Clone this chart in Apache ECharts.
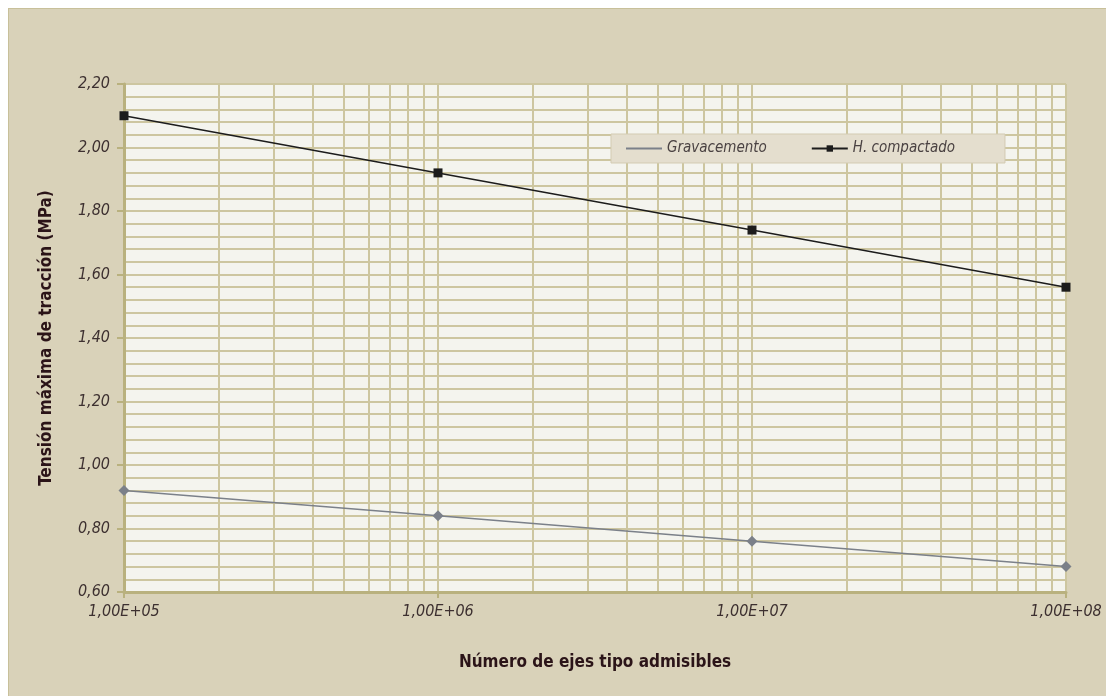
<!DOCTYPE html>
<html><head><meta charset="utf-8">
<script src="https://cdn.jsdelivr.net/npm/echarts@6/dist/echarts.min.js"></script>
<style>
html,body{margin:0;padding:0;background:#fff;}
#frame{position:absolute;left:8px;top:8px;width:1106px;height:696px;background:#d9d2b9;border:1px solid #c8c09a;box-sizing:border-box;}
#chart{position:absolute;left:0;top:0;width:1106px;height:696px;}
</style></head>
<body>
<div id="frame"></div>
<div id="chart"></div>
<script>
const ejes = [1e5, 1e6, 1e7, 1e8];
const gravacemento = [0.92, 0.84, 0.76, 0.68];
const hCompactado = [2.10, 1.92, 1.74, 1.56];
const seriesNames = ['Gravacemento', 'H. compactado'];
const yTitle = 'Tensión máxima de tracción (MPa)';
const xTitle = 'Número de ejes tipo admisibles';

const FONT = '"Liberation Sans Narrow", "DejaVu Sans Condensed", "Roboto", sans-serif';
const gridColor = '#cdc6a0';
const axisColor = '#b9b17e';

const chart = echarts.init(document.getElementById('chart'));
chart.setOption({
  animation: false,
  grid: {left: 124, right: 40, top: 84, bottom: 104, show: true, backgroundColor: '#f4f4ee', borderWidth: 0},
  legend: {
    left: 611, top: 134,
    padding: [7, 50, 7, 14],
    backgroundColor: '#e4dece', borderColor: '#d3cbb2', borderWidth: 1,
    itemWidth: 36, itemHeight: 8, itemGap: 44,
    textStyle: {fontFamily: FONT, fontStyle: 'italic', fontSize: 15, color: '#4a4242'},
    data: [
      {name: seriesNames[0], itemStyle: {opacity: 0}},
      {name: seriesNames[1]}
    ]
  },
  xAxis: {
    type: 'log', logBase: 10, min: 1e5, max: 1e8,
    name: xTitle, nameLocation: 'middle', nameGap: 62,
    nameTextStyle: {fontFamily: FONT, fontWeight: 'bold', fontSize: 17, color: '#2b1418'},
    axisLine: {show: true, lineStyle: {color: axisColor, width: 3}},
    axisTick: {show: true, length: 6, lineStyle: {color: axisColor, width: 2}},
    axisLabel: {fontFamily: FONT, fontStyle: 'italic', fontSize: 16, color: '#3d3030', margin: 12,
      formatter: v => { const e = Math.round(Math.log10(v)); return '1,00E+' + String(e).padStart(2, '0'); }},
    splitLine: {show: true, lineStyle: {color: gridColor, width: 2}},
    minorTick: {show: false, splitNumber: 9},
    minorSplitLine: {show: true, lineStyle: {color: gridColor, width: 2}}
  },
  yAxis: {
    type: 'value', min: 0.6, max: 2.2, interval: 0.2,
    name: yTitle, nameLocation: 'middle', nameGap: 69, nameRotate: 90,
    nameTextStyle: {fontFamily: FONT, fontWeight: 'bold', fontSize: 17, color: '#2b1418'},
    axisLine: {show: true, lineStyle: {color: axisColor, width: 3}},
    axisTick: {show: true, length: 7, lineStyle: {color: axisColor, width: 2}},
    axisLabel: {fontFamily: FONT, fontStyle: 'italic', fontSize: 16, color: '#3d3030', margin: 14,
      formatter: v => v.toFixed(2).replace('.', ',')},
    splitLine: {show: true, lineStyle: {color: gridColor, width: 2}},
    minorTick: {show: false, splitNumber: 5},
    minorSplitLine: {show: true, lineStyle: {color: gridColor, width: 2}}
  },
  series: [
    {
      name: seriesNames[0], type: 'line',
      data: ejes.map((x, i) => [x, gravacemento[i]]),
      symbol: 'diamond', symbolSize: 11, showAllSymbol: true,
      lineStyle: {color: '#7b8089', width: 1.5},
      itemStyle: {color: '#7b8089'}
    },
    {
      name: seriesNames[1], type: 'line',
      data: ejes.map((x, i) => [x, hCompactado[i]]),
      symbol: 'rect', symbolSize: 9, showAllSymbol: true,
      lineStyle: {color: '#1c1c1c', width: 1.5},
      itemStyle: {color: '#1c1c1c'}
    }
  ]
});
</script>
</body></html>
